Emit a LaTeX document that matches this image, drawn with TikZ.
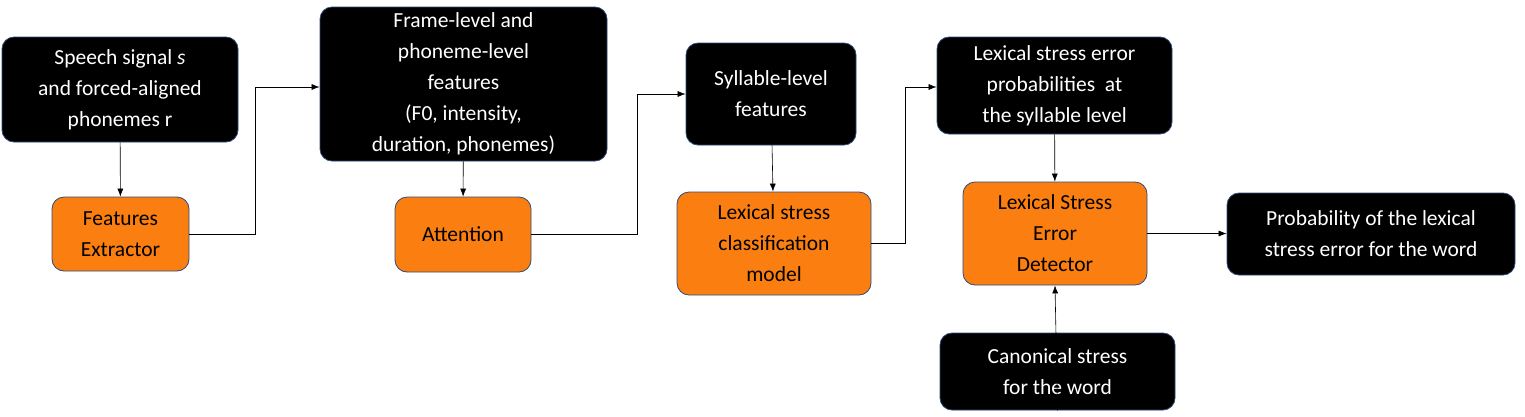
\documentclass[tikz,border=0pt]{standalone}
\usepackage{fontspec}
\setmainfont{Carlito}
\usetikzlibrary{arrows.meta}
\definecolor{bord}{HTML}{2F4A7A}
\definecolor{org}{HTML}{FA7F10}
\begin{document}
\begin{tikzpicture}[x=1pt,y=-1pt,
 box/.style={draw=bord,line width=0.8pt,rounded corners=12pt,align=center,font=\fontsize{21.5}{31}\selectfont,inner sep=2pt},
 blk/.style={box,fill=black,text=white},
 ora/.style={box,fill=org,text=black},
 arr/.style={-{Latex[length=8pt,width=6pt]},line width=0.6pt}]
\useasboundingbox (0,0) rectangle (1525,416);
\newcommand{\bx}[7]{\node[#1,minimum width=#4-#3,minimum height=#6-#5] (#2) at ({(#3+#4)/2},{(#5+#6)/2}) {#7};}
\bx{blk}{a}{2}{238}{37}{142}{Speech signal \textit{s}\\and forced-aligned\\phonemes r}
\bx{ora}{b}{52}{189}{197}{271}{Features\\Extractor}
\bx{blk}{c}{320}{607}{7}{161}{Frame-level and\\phoneme-level\\features\\(F0, intensity,\\duration, phonemes)}
\bx{ora}{d}{395}{531}{197}{272}{Attention}
\bx{blk}{e}{686}{856}{43}{145}{Syllable-level\\features}
\bx{ora}{f}{677}{871}{192}{295}{Lexical stress\\classification\\model}
\bx{blk}{g}{937}{1172}{37}{134}{Lexical stress error\\probabilities\ \ at\\the syllable level}
\bx{ora}{h}{963}{1147}{182}{285}{Lexical Stress\\Error\\Detector}
\bx{blk}{i}{1227}{1515}{193}{275}{Probability of the lexical\\stress error for the word}
\bx{blk}{j}{940}{1175}{333}{410}{Canonical stress\\for the word}
\coordinate (k1) at (255,87);
\coordinate (k2) at (637,94);
\coordinate (k3) at (905,87);
\draw[arr] (a) -- (b);
\draw[arr] (b.east) -| (k1) -- (c.west|-k1);
\draw[arr] (c) -- (d);
\draw[arr] (d.east) -| (k2) -- (e.west|-k2);
\draw[arr] (e) -- (f);
\draw[arr] (f.east) -| (k3) -- (g.west|-k3);
\draw[arr] (g) -- (h);
\draw[arr] (h) -- (i.west|-h);
\draw[arr] (j.south) -- (h.south);
\end{tikzpicture}
\end{document}
